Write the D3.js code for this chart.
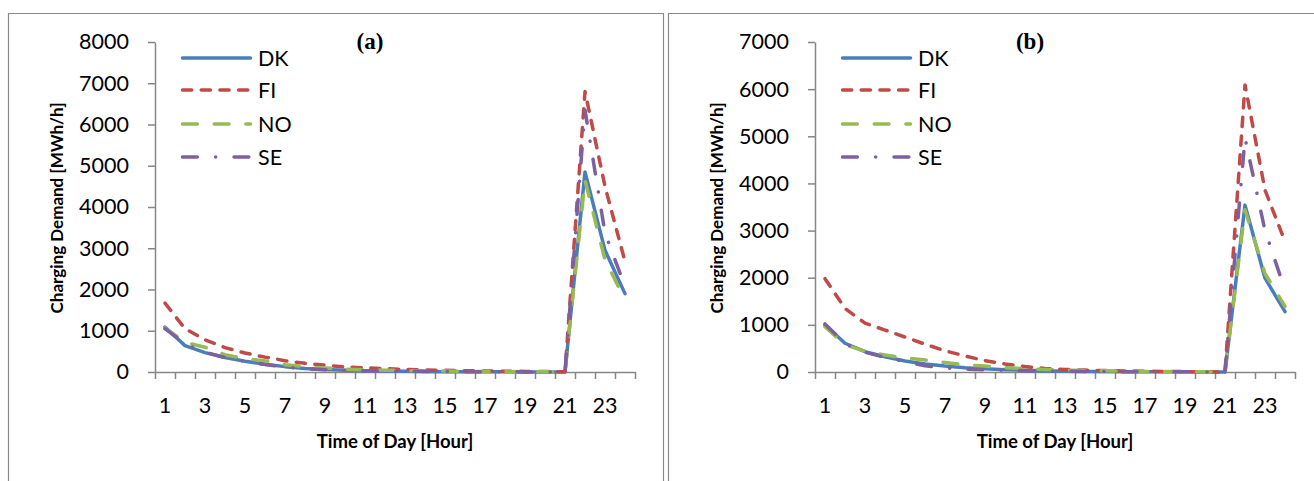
<!DOCTYPE html>
<html>
<head>
<meta charset="utf-8">
<script src="https://cdn.jsdelivr.net/npm/d3@7"></script>
<style>
  body { margin: 0; background: #fff; }
  svg { display: block; }
  .tick text { font-family: Lato, "Open Sans", sans-serif; font-size: 21.5px; fill: #000; }
</style>
</head>
<body>
<svg id="chart" width="1314" height="481"></svg>
<script>
// hours of the day
var hours = d3.range(1, 25);
var hourLabels = hours.map(function(h) { return h % 2 === 1 ? String(h) : ""; });
var countries = ["DK", "FI", "NO", "SE"];

// panel (a) charging demand, MWh/h
var dkA = [1090, 640, 470, 350, 260, 190, 130, 85, 60, 42, 30, 22, 16, 12, 9, 7, 5, 4, 3, 2, 0, 4850, 2950, 1900];
var fiA = [1670, 1050, 780, 590, 460, 360, 275, 210, 165, 125, 100, 80, 62, 50, 40, 32, 26, 20, 15, 10, 5, 6800, 4500, 2680];
var noA = [1070, 720, 600, 420, 320, 270, 175, 130, 95, 70, 55, 45, 35, 28, 22, 17, 13, 10, 7, 4, 0, 4650, 2720, 1750];
var seA = [1050, 680, 480, 350, 260, 180, 120, 80, 55, 40, 30, 22, 17, 13, 10, 8, 6, 4, 3, 2, 0, 6350, 3370, 2070];

// panel (b)
var dkB = [1000, 610, 430, 325, 235, 170, 125, 90, 70, 50, 35, 25, 18, 13, 10, 7, 5, 4, 3, 2, 0, 3540, 1990, 1280];
var fiB = [1980, 1350, 1035, 890, 740, 590, 450, 340, 240, 170, 115, 75, 55, 40, 30, 22, 16, 12, 8, 5, 0, 6090, 3860, 2770];
var noB = [960, 580, 440, 360, 300, 255, 200, 150, 125, 92, 70, 55, 42, 32, 25, 18, 13, 9, 6, 3, 0, 3440, 2090, 1390];
var seB = [1020, 600, 420, 310, 220, 130, 85, 60, 45, 35, 27, 20, 15, 12, 9, 7, 5, 4, 3, 2, 0, 4960, 3000, 1740];

var yTicksA = [0, 1000, 2000, 3000, 4000, 5000, 6000, 7000, 8000];
var yTicksB = [0, 1000, 2000, 3000, 4000, 5000, 6000, 7000];

var colors = { DK: "#4a7ebb", FI: "#be4b48", NO: "#98b954", SE: "#7d60a0" };
var dashes = { DK: null, FI: "9.2 9.5", NO: "14.8 16.9", SE: "14.8 18.3 0.1 18.3" };

var svg = d3.select("#chart");

// panel frames
svg.append("path").attr("d", "M8.5,490V13.5H663.5V490")
  .attr("fill", "none").attr("stroke", "#8a8a8a").attr("stroke-width", 1.2);
svg.append("path").attr("d", "M668.5,490V13.5H1320")
  .attr("fill", "none").attr("stroke", "#8a8a8a").attr("stroke-width", 1.2);

function drawPanel(left, title, yMax, yTicks, series) {
  var x = d3.scaleBand().domain(hours).range([left, left + 480]);
  var xb = d3.scaleLinear().domain([0, 24]).range([left, left + 480]);
  var y = d3.scaleLinear().domain([0, yMax]).range([372, 42]);
  var g = svg.append("g");

  // y axis
  var ya = g.append("g").attr("transform", "translate(" + left + ",0)")
    .call(d3.axisLeft(y).tickValues(yTicks).tickFormat(d3.format("d"))
      .tickSize(7).tickSizeOuter(0).tickPadding(19));
  // x axis boundary ticks
  var xa = g.append("g").attr("transform", "translate(0,372)")
    .call(d3.axisBottom(xb).ticks(24).tickSize(7).tickSizeOuter(0).tickFormat(""));
  // x labels at category centres
  var xl = g.append("g").attr("transform", "translate(0,372)")
    .call(d3.axisBottom(x).tickSize(0).tickPadding(26)
      .tickFormat(function(d, i) { return hourLabels[i]; }));
  xl.select(".domain").remove();
  [ya, xa].forEach(function(a) {
    a.selectAll("path, line").attr("stroke", "#868686").attr("stroke-width", 1.5);
  });

  var line = d3.line()
    .x(function(d, i) { return x(hours[i]) + x.bandwidth() / 2; })
    .y(function(d) { return y(d); });

  countries.forEach(function(c, k) {
    g.append("path").datum(series[k])
      .attr("d", line)
      .attr("fill", "none")
      .attr("stroke", colors[c])
      .attr("stroke-width", 3.5)
      .attr("stroke-linecap", "round")
      .attr("stroke-linejoin", "round")
      .attr("stroke-dasharray", dashes[c]);
  });

  // legend
  var rows = [58, 90, 124, 157];
  countries.forEach(function(c, k) {
    g.append("line")
      .attr("x1", left + 27.5).attr("x2", left + 95.5)
      .attr("y1", rows[k]).attr("y2", rows[k])
      .attr("stroke", colors[c]).attr("stroke-width", 3.5)
      .attr("stroke-linecap", "round")
      .attr("stroke-dasharray", dashes[c]);
    g.append("text").attr("x", left + 103).attr("y", rows[k])
      .attr("dy", "0.36em")
      .style("font-family", "Lato, 'Open Sans', sans-serif")
      .style("font-size", "21.5px")
      .text(c);
  });

  // titles
  g.append("text").attr("x", left + 215).attr("y", 49)
    .attr("text-anchor", "middle")
    .style("font-family", "'Liberation Serif', 'DejaVu Serif', serif")
    .style("font-weight", "bold").style("font-size", "23px")
    .text(title);
  g.append("text").attr("x", left + 240).attr("y", 448)
    .attr("text-anchor", "middle")
    .style("font-family", "Lato, 'Open Sans', sans-serif")
    .style("font-weight", "bold").style("font-size", "18.5px")
    .text("Time of Day [Hour]");
  g.append("text")
    .attr("transform", "translate(" + (left - 92) + ",208) rotate(-90)")
    .attr("text-anchor", "middle")
    .style("font-family", "Lato, 'Open Sans', sans-serif")
    .style("font-weight", "bold").style("font-size", "17px")
    .text("Charging Demand [MWh/h]");
}

drawPanel(155, "(a)", 8000, yTicksA, [dkA, fiA, noA, seA]);
drawPanel(815, "(b)", 7000, yTicksB, [dkB, fiB, noB, seB]);
</script>
</body>
</html>
